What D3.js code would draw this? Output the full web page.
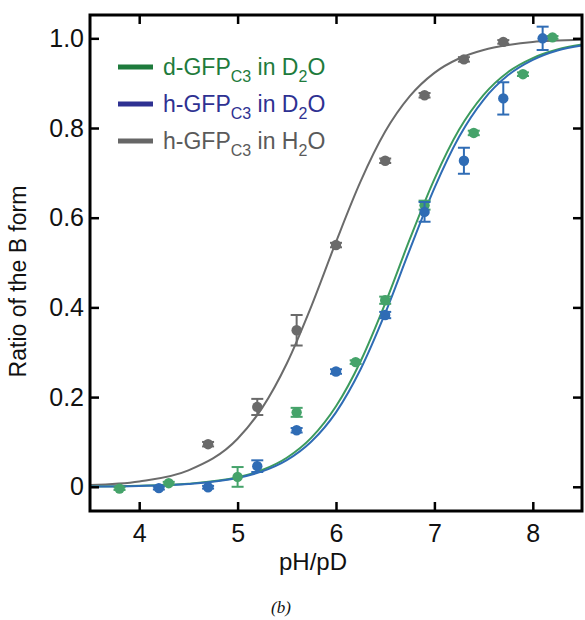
<!DOCTYPE html>
<html><head><meta charset="utf-8">
<script src="https://cdn.jsdelivr.net/npm/d3@7"></script>
<style>
body{margin:0;background:#fff}
svg text{font-family:"Liberation Sans",Arial,Helvetica,sans-serif}
</style>
</head><body><svg id="c" width="585" height="620"></svg>
<script>
// ---- data ----
const xTicks = [4, 5, 6, 7, 8];
const yTicks = [0, 0.2, 0.4, 0.6, 0.8, 1.0];
const yTickLabels = ["0", "0.2", "0.4", "0.6", "0.8", "1.0"];
const seriesNames = ["d-GFP|C3| in D|2|O", "h-GFP|C3| in D|2|O", "h-GFP|C3| in H|2|O"];

// measured points (x, y, error)
const dD2O_x = [3.8, 4.3, 5.0, 5.6, 6.2, 6.5, 6.9, 7.4, 7.9, 8.2];
const dD2O_y = [-0.004, 0.008, 0.022, 0.166, 0.278, 0.416, 0.628, 0.789, 0.920, 1.002];
const dD2O_e = [0.003, 0.003, 0.022, 0.010, 0.004, 0.008, 0.010, 0.005, 0.004, 0.003];

const hD2O_x = [4.2, 4.7, 5.2, 5.6, 6.0, 6.5, 6.9, 7.3, 7.7, 8.1];
const hD2O_y = [-0.003, -0.001, 0.046, 0.126, 0.257, 0.383, 0.613, 0.727, 0.866, 1.000];
const hD2O_e = [0.003, 0.003, 0.013, 0.005, 0.005, 0.007, 0.022, 0.029, 0.036, 0.026];

const hH2O_x = [4.7, 5.2, 5.6, 6.0, 6.5, 6.9, 7.3, 7.7];
const hH2O_y = [0.095, 0.178, 0.349, 0.539, 0.727, 0.873, 0.953, 0.992];
const hH2O_e = [0.005, 0.018, 0.034, 0.005, 0.005, 0.005, 0.005, 0.004];

// fitted curves
const fit_x     = [3.5, 4, 4.5, 5, 5.25, 5.5, 5.75, 6, 6.25, 6.5, 6.75, 7, 7.25, 7.5, 7.75, 8, 8.25, 8.5];
const fit_dD2O  = [0.0007, 0.0022, 0.0069, 0.0214, 0.0374, 0.0647, 0.1095, 0.1795, 0.280, 0.409, 0.552, 0.686, 0.796, 0.874, 0.925, 0.956, 0.975, 0.986];
const fit_hD2O  = [0.0006, 0.0020, 0.0063, 0.0196, 0.0343, 0.0593, 0.1009, 0.166, 0.262, 0.387, 0.529, 0.666, 0.780, 0.863, 0.918, 0.952, 0.973, 0.984];
const fit_hH2O  = [0.0038, 0.0119, 0.0366, 0.107, 0.176, 0.275, 0.403, 0.546, 0.681, 0.792, 0.871, 0.923, 0.955, 0.974, 0.985, 0.992, 0.995, 0.997];

// ---- drawing ----
const svg = d3.select("#c");
const L = 90, R = 582, T = 15, B = 511;
const x = d3.scaleLinear().domain([3.5, 8.5]).range([L, R]);
const y = d3.scaleLinear().domain([-0.054, 1.052]).range([B, T]);

svg.append("defs").append("clipPath").attr("id", "clip")
  .append("rect").attr("x", L).attr("y", T).attr("width", R - L).attr("height", B - T);

const series = [
  {name: seriesNames[2], xs: hH2O_x, ys: hH2O_y, es: hH2O_e, fit: fit_hH2O, curve: "#6b6b6b", pt: "#6a6a6a", leg: "#666666", txt: "#5a5a5a"},
  {name: seriesNames[0], xs: dD2O_x, ys: dD2O_y, es: dD2O_e, fit: fit_dD2O, curve: "#3c9b5d", pt: "#45a36a", leg: "#1e7b3c", txt: "#1e7b3c"},
  {name: seriesNames[1], xs: hD2O_x, ys: hD2O_y, es: hD2O_e, fit: fit_hD2O, curve: "#2f6cb5", pt: "#2f6cb5", leg: "#2e3192", txt: "#2e3192"}
];

const line = d3.line().x(d => x(d[0])).y(d => y(d[1])).curve(d3.curveMonotoneX);
const gCurves = svg.append("g").attr("clip-path", "url(#clip)");
series.forEach(s => {
  gCurves.append("path").datum(fit_x.map((v, i) => [v, s.fit[i]]))
    .attr("d", line).attr("fill", "none").attr("stroke", s.curve).attr("stroke-width", 2);
});

// points with error bars
series.forEach(s => {
  const g = svg.append("g");
  const data = s.xs.map((v, i) => ({x: v, y: s.ys[i], e: s.es[i]}));
  const cap = 6;
  data.forEach(d => {
    const cx = x(d.x), y1 = y(d.y + d.e), y2 = y(d.y - d.e);
    g.append("line").attr("x1", cx).attr("x2", cx).attr("y1", y1).attr("y2", y2)
      .attr("stroke", s.pt).attr("stroke-width", 2);
    [y1, y2].forEach(yy => g.append("line").attr("x1", cx - cap).attr("x2", cx + cap)
      .attr("y1", yy).attr("y2", yy).attr("stroke", s.pt).attr("stroke-width", 2));
  });
  g.selectAll("circle").data(data).join("circle")
    .attr("cx", d => x(d.x)).attr("cy", d => y(d.y)).attr("r", 5.2).attr("fill", s.pt);
});

// axes
const tickLen = 9;
const axB = svg.append("g").attr("transform", `translate(0,${B})`)
  .call(d3.axisBottom(x).tickValues(xTicks).tickFormat(d3.format("d")).tickSizeInner(-tickLen).tickSizeOuter(0).tickPadding(13));
const axL = svg.append("g").attr("transform", `translate(${L},0)`)
  .call(d3.axisLeft(y).tickValues(yTicks).tickFormat((d, i) => yTickLabels[i]).tickSizeInner(-tickLen).tickSizeOuter(0).tickPadding(6));
const axT = svg.append("g").attr("transform", `translate(0,${T})`)
  .call(d3.axisTop(x).tickValues(xTicks).tickFormat("").tickSizeInner(-tickLen).tickSizeOuter(0));
const axR = svg.append("g").attr("transform", `translate(${R},0)`)
  .call(d3.axisRight(y).tickValues(yTicks).tickFormat("").tickSizeInner(-tickLen).tickSizeOuter(0));
[axB, axL, axT, axR].forEach(a => {
  a.select(".domain").remove();
  a.selectAll(".tick line").attr("stroke", "#000").attr("stroke-width", 2.5);
  a.selectAll(".tick text").attr("fill", "#111").style("font-size", "25px");
});
svg.append("rect").attr("x", L).attr("y", T).attr("width", R - L).attr("height", B - T)
  .attr("fill", "none").attr("stroke", "#000").attr("stroke-width", 3);

// axis titles
svg.append("text").attr("transform", `translate(26,${(183 + 380) / 2}) rotate(-90)`)
  .attr("text-anchor", "middle").style("font-size", "23px").attr("fill", "#111").text("Ratio of the B form");
svg.append("text").attr("x", 313).attr("y", 570).attr("text-anchor", "middle")
  .style("font-size", "24px").attr("fill", "#111").text("pH/pD");
svg.append("text").attr("x", 281).attr("y", 613).attr("text-anchor", "middle")
  .style("font-family", "'Liberation Serif','Times New Roman',serif").style("font-style", "italic")
  .style("font-size", "17px").attr("fill", "#111").text("(b)");

// legend
const legOrder = [series[1], series[2], series[0]];
const legY = [67, 104, 141];
legOrder.forEach((s, i) => {
  const yy = legY[i];
  svg.append("line").attr("x1", 118).attr("x2", 153).attr("y1", yy).attr("y2", yy)
    .attr("stroke", s.leg).attr("stroke-width", 5);
  const parts = s.name.split("|");
  const t = svg.append("text").attr("x", 163).attr("y", yy + 8).attr("fill", s.txt).style("font-size", "23px");
  parts.forEach((p, j) => {
    const sub = j % 2 === 1;
    t.append("tspan").text(p)
      .attr("dy", j === 0 ? 0 : (sub ? 7 : -7))
      .style("font-size", sub ? "16px" : "23px");
  });
});
</script>
</body></html>
